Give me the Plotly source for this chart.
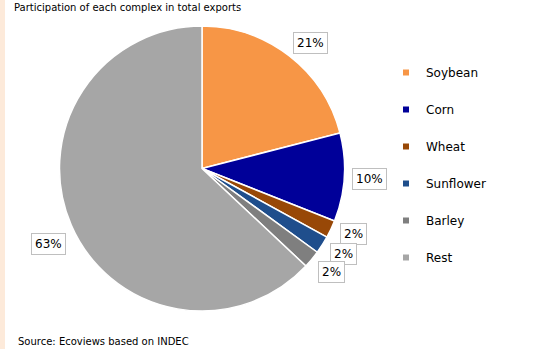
import math
import plotly.graph_objects as go

# Share of each complex in total exports (%)
complexes = ["Soybean", "Corn", "Wheat", "Sunflower", "Barley", "Rest"]
shares = [21, 10, 2, 2, 2, 63]
colors = ["#F79646", "#000099", "#984807", "#1F4E8C", "#7F7F7F", "#A6A6A6"]

title_text = "Participation of each complex in total exports"
source_text = "Source: Ecoviews based on INDEC"

W, H = 558, 349
FONT = "DejaVu Sans"

# pie placement (pixels)
cx, cy, R = 202.0, 168.5, 142.5
# small nudges for the boxed value labels (pixels, x right / y down)
label_nudge = [(5, 7), (0, 0), (-1, -6), (0, -5), (0, -4), (1, 9)]

fig = go.Figure()

fig.add_trace(go.Pie(
    labels=complexes,
    values=shares,
    marker=dict(colors=colors, line=dict(color="white", width=1.5)),
    sort=False,
    direction="clockwise",
    rotation=0,
    textinfo="none",
    hoverinfo="label+percent",
    showlegend=False,
    domain=dict(x=[(cx - R) / W, (cx + R) / W],
                y=[(H - cy - R) / H, (H - cy + R) / H]),
))

# legend entries as marker-only traces so entries can be spaced apart
for name, col in zip(complexes, colors):
    fig.add_trace(go.Scatter(
        x=[None], y=[None], mode="markers", name=name,
        marker=dict(symbol="square", size=6, color=col),
        legendgroup=name, showlegend=True,
    ))

# boxed percentage labels outside each slice
total = sum(shares)
cum = 0.0
annotations = []
for v, (dx, dy) in zip(shares, label_nudge):
    mid = (cum + v / 2) / total * 2 * math.pi
    cum += v
    r = R * 1.18
    px = cx + r * math.sin(mid) + dx
    py = cy - r * math.cos(mid) + dy
    annotations.append(dict(
        x=px / W, y=1 - py / H, xref="paper", yref="paper",
        text=f"{v}%", showarrow=False,
        font=dict(family=FONT, size=12, color="black"),
        bgcolor="white", bordercolor="#BFBFBF", borderwidth=1, borderpad=3,
        xanchor="center", yanchor="middle",
    ))

annotations.append(dict(
    x=12 / W, y=1.0, xref="paper", yref="paper",
    text=title_text, showarrow=False, xanchor="left", yanchor="top",
    font=dict(family=FONT, size=10, color="black"),
))
annotations.append(dict(
    x=16 / W, y=0.0, xref="paper", yref="paper",
    text=source_text, showarrow=False, xanchor="left", yanchor="bottom",
    font=dict(family=FONT, size=10, color="black"),
))

fig.update_layout(
    width=W, height=H,
    margin=dict(l=0, r=0, t=0, b=0),
    paper_bgcolor="white", plot_bgcolor="white",
    xaxis=dict(visible=False), yaxis=dict(visible=False),
    annotations=annotations,
    shapes=[dict(type="rect", xref="paper", yref="paper",
                 x0=0, x1=5 / W, y0=0, y1=1,
                 fillcolor="#FDEADA", line=dict(width=0), layer="below")],
    legend=dict(
        x=386 / W, y=1 - 58 / H, xanchor="left", yanchor="top",
        font=dict(family=FONT, size=12, color="black"),
        tracegroupgap=18, itemwidth=30,
        bgcolor="rgba(0,0,0,0)",
    ),
)

fig.write_html("out.html")
